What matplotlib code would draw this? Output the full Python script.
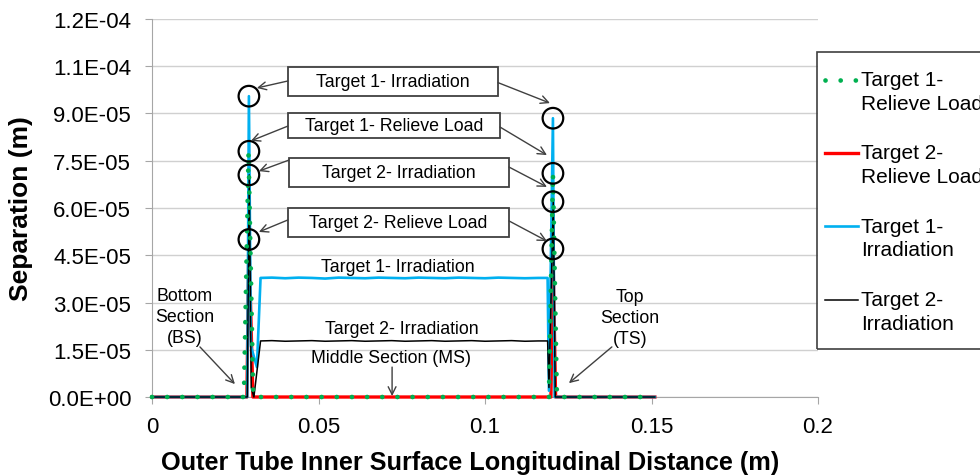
import numpy as np
import matplotlib
matplotlib.use("Agg")
import matplotlib.pyplot as plt
from matplotlib.patches import Rectangle
from matplotlib.legend_handler import HandlerLine2D

plt.rcParams['font.family'] = ['Liberation Sans', 'DejaVu Sans']

# separation along the outer tube (x in m, y in m)
t1_relieve_x = [0.0, 0.0276, 0.0290, 0.0304, 0.1192, 0.1204, 0.1216, 0.151]
t1_relieve_y = [0.0, 0.0, 7.8e-05, 0.0, 0.0, 7.1e-05, 0.0, 0.0]

t2_relieve_x = [0.0, 0.0285, 0.0291, 0.0303, 0.1198, 0.1204, 0.1212, 0.151]
t2_relieve_y = [0.0, 0.0, 5.0e-05, 0.0, 0.0, 4.7e-05, 0.0, 0.0]

t1_irr_x = [0.0, 0.0286, 0.0291, 0.0297, 0.0315, 0.0326,
            0.036, 0.040, 0.044, 0.048, 0.052, 0.056, 0.060, 0.064, 0.068,
            0.072, 0.076, 0.080, 0.084, 0.088, 0.092, 0.096, 0.100, 0.104,
            0.108, 0.112, 0.116, 0.1188, 0.1192, 0.1204, 0.1209, 0.151]
t1_irr_y = [0.0, 0.0, 9.55e-05, 1.62e-05, 9.5e-06, 3.78e-05,
            3.79e-05, 3.77e-05, 3.79e-05, 3.78e-05, 3.76e-05, 3.79e-05,
            3.78e-05, 3.77e-05, 3.79e-05, 3.78e-05, 3.77e-05, 3.79e-05,
            3.78e-05, 3.77e-05, 3.79e-05, 3.78e-05, 3.77e-05, 3.79e-05,
            3.78e-05, 3.77e-05, 3.78e-05, 3.78e-05, 2.0e-06, 8.85e-05,
            0.0, 0.0]

t2_irr_x = [0.0, 0.0286, 0.0292, 0.0298, 0.0306, 0.0326,
            0.036, 0.040, 0.044, 0.048, 0.052, 0.056, 0.060, 0.064, 0.068,
            0.072, 0.076, 0.080, 0.084, 0.088, 0.092, 0.096, 0.100, 0.104,
            0.108, 0.112, 0.116, 0.1188, 0.1192, 0.1205, 0.1211, 0.151]
t2_irr_y = [0.0, 0.0, 7.05e-05, 3.0e-06, 0.0, 1.78e-05,
            1.79e-05, 1.77e-05, 1.78e-05, 1.79e-05, 1.77e-05, 1.78e-05,
            1.79e-05, 1.77e-05, 1.78e-05, 1.79e-05, 1.77e-05, 1.78e-05,
            1.79e-05, 1.77e-05, 1.78e-05, 1.79e-05, 1.77e-05, 1.78e-05,
            1.79e-05, 1.77e-05, 1.78e-05, 1.78e-05, 3.0e-06, 6.2e-05,
            0.0, 0.0]

x_ticks = [0, 0.05, 0.1, 0.15, 0.2]
x_ticklabels = ['0', '0.05', '0.1', '0.15', '0.2']
y_ticks = [0, 1.5e-05, 3.0e-05, 4.5e-05, 6.0e-05, 7.5e-05, 9.0e-05, 1.05e-04, 1.2e-04]
y_ticklabels = ['0.0E+00', '1.5E-05', '3.0E-05', '4.5E-05', '6.0E-05',
                '7.5E-05', '9.0E-05', '1.1E-04', '1.2E-04']


class FirstLineHandler(HandlerLine2D):
    # put the legend sample level with the first line of a two-line label
    def create_artists(self, legend, orig_handle, xdescent, ydescent,
                       width, height, fontsize, trans):
        arts = super().create_artists(legend, orig_handle, xdescent, ydescent,
                                      width, height, fontsize, trans)
        for a in arts:
            a.set_ydata(np.asarray(a.get_ydata()) + 0.56 * fontsize)
        return arts


fig = plt.figure(figsize=(9.8, 4.77), dpi=100)
ax = fig.add_axes([0.1551, 0.1656, 0.6796, 0.7925])

ax.plot(t2_relieve_x, t2_relieve_y, color='#ff0000', lw=2.4, zorder=3,
        clip_on=False, label='Target 2-\nRelieve Load')
ax.plot(t1_irr_x, t1_irr_y, color='#00b0f0', lw=1.9, zorder=4,
        clip_on=False, label='Target 1-\nIrradiation')
ax.plot(t2_irr_x, t2_irr_y, color='black', lw=1.1, zorder=5,
        clip_on=False, label='Target 2-\nIrradiation')
ax.plot(t1_relieve_x, t1_relieve_y, color='#00b050', lw=3.4, zorder=6,
        linestyle=(0, (0.01, 3.2)), dash_capstyle='round',
        clip_on=False, label='Target 1-\nRelieve Load')

# open circles on the spike peaks
peaks_left = [max(t1_irr_y[:6]), max(t1_relieve_y[:4]), max(t2_irr_y[:6]), max(t2_relieve_y[:4])]
peaks_right = [max(t1_irr_y[6:]), max(t1_relieve_y[4:]), max(t2_irr_y[6:]), max(t2_relieve_y[4:])]
ax.scatter([0.0291] * 4, peaks_left, s=220, facecolors='none', edgecolors='black',
           linewidths=1.6, zorder=7, clip_on=False)
ax.scatter([0.1204] * 4, peaks_right, s=220, facecolors='none', edgecolors='black',
           linewidths=1.6, zorder=7, clip_on=False)

# callout boxes with arrows to both ends
boxes = [
    ('Target 1- Irradiation', 0.0724, 1.0016e-04, 0.0631, 9.2e-06,
     (0.0408, 1.0032e-04), (0.0315, 9.81e-05), (0.1039, 9.98e-05), (0.1195, 9.33e-05)),
    ('Target 1- Relieve Load', 0.0727, 8.62e-05, 0.0637, 8.0e-06,
     (0.0408, 8.60e-05), (0.0297, 8.13e-05), (0.1045, 8.57e-05), (0.1186, 7.68e-05)),
    ('Target 2- Irradiation', 0.0742, 7.125e-05, 0.0661, 9.2e-06,
     (0.0411, 7.52e-05), (0.0321, 7.17e-05), (0.1072, 7.30e-05), (0.1186, 6.67e-05)),
    ('Target 2- Relieve Load', 0.0740, 5.54e-05, 0.0664, 9.2e-06,
     (0.0408, 5.62e-05), (0.0321, 5.24e-05), (0.1072, 5.59e-05), (0.1186, 4.95e-05)),
]
arrow = dict(arrowstyle='->', color='#404040', lw=1.0, shrinkA=0, shrinkB=0,
             mutation_scale=14)
for label, cx, cy, w, h, ls, lt, rs, rt in boxes:
    ax.add_patch(Rectangle((cx - w / 2, cy - h / 2), w, h, facecolor='white',
                           edgecolor='#404040', lw=1.3, zorder=8))
    ax.text(cx, cy, label, ha='center', va='center', fontsize=12.8, zorder=9)
    ax.annotate('', xy=lt, xytext=ls, arrowprops=arrow, zorder=8)
    ax.annotate('', xy=rt, xytext=rs, arrowprops=arrow, zorder=8)

ax.text(0.0099, 2.55e-05, 'Bottom\nSection\n(BS)', ha='center', va='center',
        fontsize=12.8, linespacing=1.3)
ax.annotate('', xy=(0.0249, 4.1e-06), xytext=(0.0144, 1.59e-05), arrowprops=arrow)
ax.text(0.1435, 2.52e-05, 'Top\nSection\n(TS)', ha='center', va='center',
        fontsize=12.8, linespacing=1.3)
ax.annotate('', xy=(0.1252, 4.4e-06), xytext=(0.1381, 1.59e-05), arrowprops=arrow)
ax.text(0.0739, 4.13e-05, 'Target 1- Irradiation', ha='center', va='center', fontsize=12.8)
ax.text(0.0751, 2.16e-05, 'Target 2- Irradiation', ha='center', va='center', fontsize=12.8)
ax.text(0.0718, 1.24e-05, 'Middle Section (MS)', ha='center', va='center', fontsize=12.8)
ax.annotate('', xy=(0.0721, 3e-07), xytext=(0.0721, 9.5e-06), arrowprops=arrow)

ax.set_xlim(0, 0.2)
ax.set_ylim(0, 1.2e-04)
ax.set_xticks(x_ticks)
ax.set_xticklabels(x_ticklabels)
ax.set_yticks(y_ticks)
ax.set_yticklabels(y_ticklabels)
ax.tick_params(labelsize=16, length=5, color='#a6a6a6', direction='out')
ax.tick_params(axis='x', pad=9)
ax.tick_params(axis='y', pad=10)
ax.grid(axis='y', color='#d0d0d0', lw=1)
ax.set_axisbelow(True)
for s in ['top', 'right']:
    ax.spines[s].set_visible(False)
for s in ['left', 'bottom']:
    ax.spines[s].set_color('#a6a6a6')

ax.set_ylabel('Separation (m)', fontsize=19, fontweight='bold')
ax.yaxis.set_label_coords(-0.178, 0.5)
ax.set_xlabel('Outer Tube Inner Surface Longitudinal Distance (m)', fontsize=18.2,
              fontweight='bold')
ax.xaxis.set_label_coords(0.477, -0.14)

h, l = ax.get_legend_handles_labels()
order = [3, 0, 1, 2]
leg = fig.legend([h[i] for i in order], [l[i] for i in order], loc='upper left',
                 bbox_to_anchor=(825 / 980, 1 - 71 / 477), fontsize=15, frameon=False,
                 labelspacing=1.48, handlelength=1.6, handletextpad=0.15,
                 borderpad=0, borderaxespad=0,
                 handler_map={matplotlib.lines.Line2D: FirstLineHandler()})
for t in leg.get_texts():
    t.set_linespacing(1.3)
fig.add_artist(Rectangle((817 / 980, 1 - 350 / 477), 0.3, 297 / 477,
                         transform=fig.transFigure, fill=False,
                         edgecolor='#404040', lw=1.2))

fig.savefig('out.png', dpi=100)
